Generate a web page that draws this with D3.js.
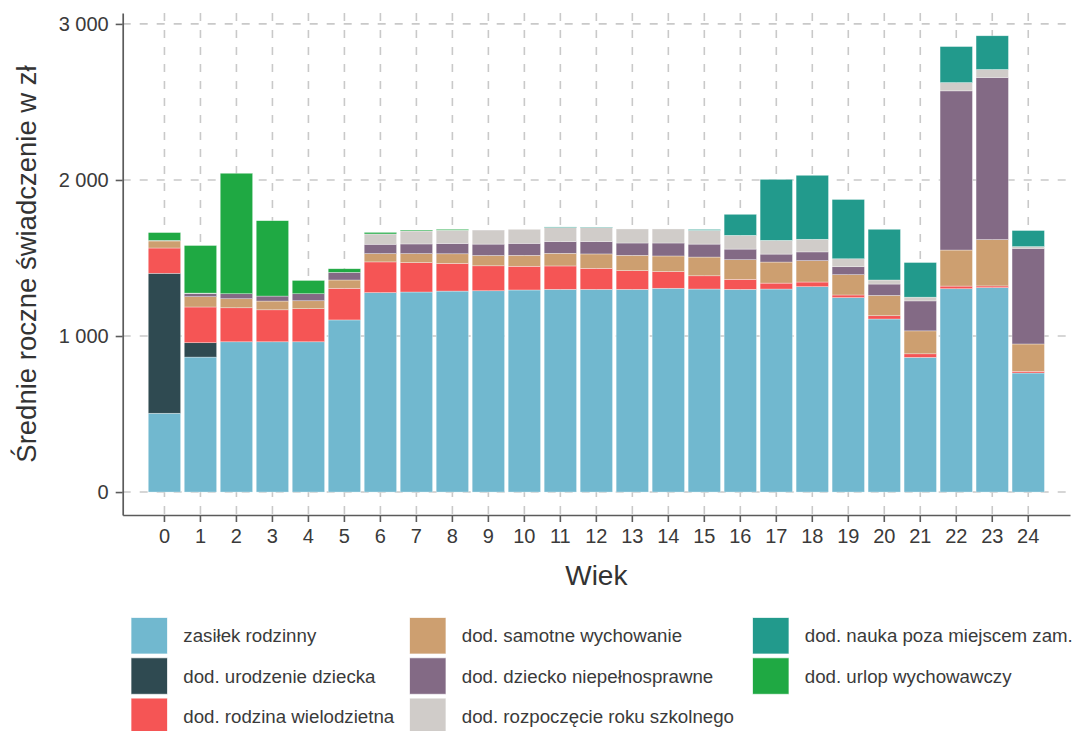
<!DOCTYPE html>
<html lang="pl">
<head>
<meta charset="utf-8">
<script src="https://cdn.jsdelivr.net/npm/d3@7"></script>
<style>
  html, body { margin: 0; padding: 0; background: #fff; }
  svg { display: block; font-family: "Liberation Sans", Arial, sans-serif; }
</style>
</head>
<body>
<svg id="chart" width="1078" height="731"></svg>
<script>
// Wiek dziecka (lata)
const ages = d3.range(0, 25).map(String);

// Średnie roczne kwoty świadczeń w zł, wg wieku 0–24
const zasilekRodzinny      = [505, 865, 963, 963, 963, 1103, 1278, 1282, 1288, 1290, 1295, 1299, 1299, 1299, 1306, 1301, 1299, 1301, 1316, 1246, 1109, 863, 1303, 1310, 763];
const urodzenieDziecka     = [897, 92, 0, 0, 0, 0, 0, 0, 0, 0, 0, 0, 0, 0, 0, 0, 0, 0, 0, 0, 0, 0, 0, 0, 0];
const rodzinaWielodzietna  = [162, 229, 218, 205, 212, 203, 197, 188, 177, 160, 152, 150, 135, 120, 107, 85, 64, 38, 30, 17, 21, 23, 17, 11, 11];
const samotneWychowanie    = [45, 66, 58, 56, 51, 53, 53, 58, 62, 66, 70, 81, 92, 98, 100, 120, 126, 135, 137, 130, 130, 147, 231, 297, 175];
const dzieckoNiepelnospr   = [4, 20, 32, 32, 45, 49, 60, 62, 66, 73, 77, 75, 79, 79, 83, 83, 68, 51, 56, 51, 73, 192, 1020, 1039, 613];
const rozpoczecieRoku      = [0, 3, 0, 0, 0, 0, 66, 83, 85, 90, 90, 90, 90, 90, 90, 88, 88, 88, 81, 51, 26, 24, 53, 51, 11];
const naukaPozaMiejscem    = [0, 0, 0, 0, 0, 0, 0, 0, 0, 0, 0, 4, 3, 0, 0, 6, 135, 391, 410, 380, 325, 222, 231, 216, 103];
const urlopWychowawczy     = [50, 305, 772, 483, 85, 23, 10, 6, 6, 0, 0, 0, 0, 0, 0, 0, 0, 0, 0, 0, 0, 0, 0, 0, 0];

const seriesNames = [
  "zasiłek rodzinny",
  "dod. urodzenie dziecka",
  "dod. rodzina wielodzietna",
  "dod. samotne wychowanie",
  "dod. dziecko niepełnosprawne",
  "dod. rozpoczęcie roku szkolnego",
  "dod. nauka poza miejscem zam.",
  "dod. urlop wychowawczy"
];
const seriesValues = [
  zasilekRodzinny, urodzenieDziecka, rodzinaWielodzietna, samotneWychowanie,
  dzieckoNiepelnospr, rozpoczecieRoku, naukaPozaMiejscem, urlopWychowawczy
];
const seriesColors = ["#71b8cf", "#2f4a51", "#f55555", "#cd9f70", "#836a85", "#d0ccc9", "#229a8c", "#1fa943"];

const yTicks = [0, 1000, 2000, 3000];

// Tabela wierszy dla d3.stack
const rows = ages.map((a, i) => {
  const r = { age: a };
  seriesNames.forEach((n, k) => { r[n] = seriesValues[k][i]; });
  return r;
});

const svg = d3.select("#chart");
const panel = { left: 122.7, right: 1070, top: 13, bottom: 515 };

const x = d3.scaleBand()
  .domain(ages)
  .range([panel.left, panel.right])
  .paddingInner(0.1)
  .paddingOuter(0.71);

const y = d3.scaleLinear()
  .domain([-147, 3070])
  .range([panel.bottom, panel.top]);

const color = d3.scaleOrdinal().domain(seriesNames).range(seriesColors);

const plFormat = d3.formatLocale({ decimal: ",", thousands: "\u00a0", grouping: [3], currency: ["", " zł"] }).format(",d");

// Siatka
const grid = svg.append("g").attr("class", "grid")
  .attr("stroke", "#c9c9c9").attr("stroke-width", 1.6).attr("stroke-dasharray", "8,9");
grid.selectAll("line.h").data(yTicks).join("line").attr("class", "h")
  .attr("x1", panel.left).attr("x2", panel.right)
  .attr("y1", d => y(d)).attr("y2", d => y(d));
grid.selectAll("line.v").data(ages).join("line").attr("class", "v")
  .attr("x1", d => x(d) + x.bandwidth() / 2).attr("x2", d => x(d) + x.bandwidth() / 2)
  .attr("y1", panel.top).attr("y2", panel.bottom);

// Słupki skumulowane
const stacked = d3.stack().keys(seriesNames)(rows);
svg.append("g").attr("class", "bars")
  .selectAll("g").data(stacked).join("g")
  .attr("fill", d => color(d.key))
  .selectAll("rect").data(d => d.filter(s => s[1] - s[0] > 0)).join("rect")
  .attr("x", d => x(d.data.age))
  .attr("width", x.bandwidth())
  .attr("y", d => y(d[1]))
  .attr("height", d => y(d[0]) - y(d[1]))
  .attr("stroke", "#ffffff").attr("stroke-opacity", 0.55).attr("stroke-width", 0.6);

// Osie
const axisColor = "#5b5b5b";
const yAxis = svg.append("g").attr("transform", `translate(${panel.left},0)`)
  .call(d3.axisLeft(y).tickValues(yTicks).tickFormat(plFormat).tickSize(7).tickSizeOuter(0).tickPadding(7));
const xAxis = svg.append("g").attr("transform", `translate(0,${panel.bottom})`)
  .call(d3.axisBottom(x).tickSize(7).tickSizeOuter(0).tickPadding(7));
[yAxis, xAxis].forEach(a => {
  a.select(".domain").attr("stroke", axisColor).attr("stroke-width", 1.7);
  a.selectAll(".tick line").attr("stroke", axisColor).attr("stroke-width", 1.6);
  a.selectAll(".tick text").attr("fill", "#3a3a3a")
    .style("font-size", "20px").style("font-family", "'Liberation Sans', Arial, sans-serif");
});

// Tytuły osi
svg.append("text")
  .attr("x", (panel.left + panel.right) / 2).attr("y", 585)
  .attr("text-anchor", "middle").attr("fill", "#333")
  .style("font-size", "28px").text("Wiek");
svg.append("text")
  .attr("transform", `translate(36,${(panel.top + panel.bottom) / 2}) rotate(-90)`)
  .attr("text-anchor", "middle").attr("fill", "#333")
  .style("font-size", "27.5px").text("Średnie roczne świadczenie w zł");

// Legenda (3 kolumny, układ kolumnowy)
const legendCols = [131, 409.5, 752.5];
const legendTop = 617.5, legendStep = 40.3, keySize = 36.5;
const legend = svg.append("g").attr("class", "legend");
seriesNames.forEach((name, i) => {
  const col = Math.floor(i / 3), row = i % 3;
  const lx = legendCols[col], ly = legendTop + row * legendStep;
  legend.append("rect")
    .attr("x", lx).attr("y", ly).attr("width", keySize).attr("height", keySize)
    .attr("fill", color(name)).attr("stroke", "#ffffff").attr("stroke-opacity", 0.7).attr("stroke-width", 1);
  legend.append("text")
    .attr("x", lx + 52.3).attr("y", ly + keySize / 2)
    .attr("dominant-baseline", "central").attr("fill", "#3a3a3a")
    .style("font-size", "18.7px").text(name);
});
</script>
</body>
</html>
